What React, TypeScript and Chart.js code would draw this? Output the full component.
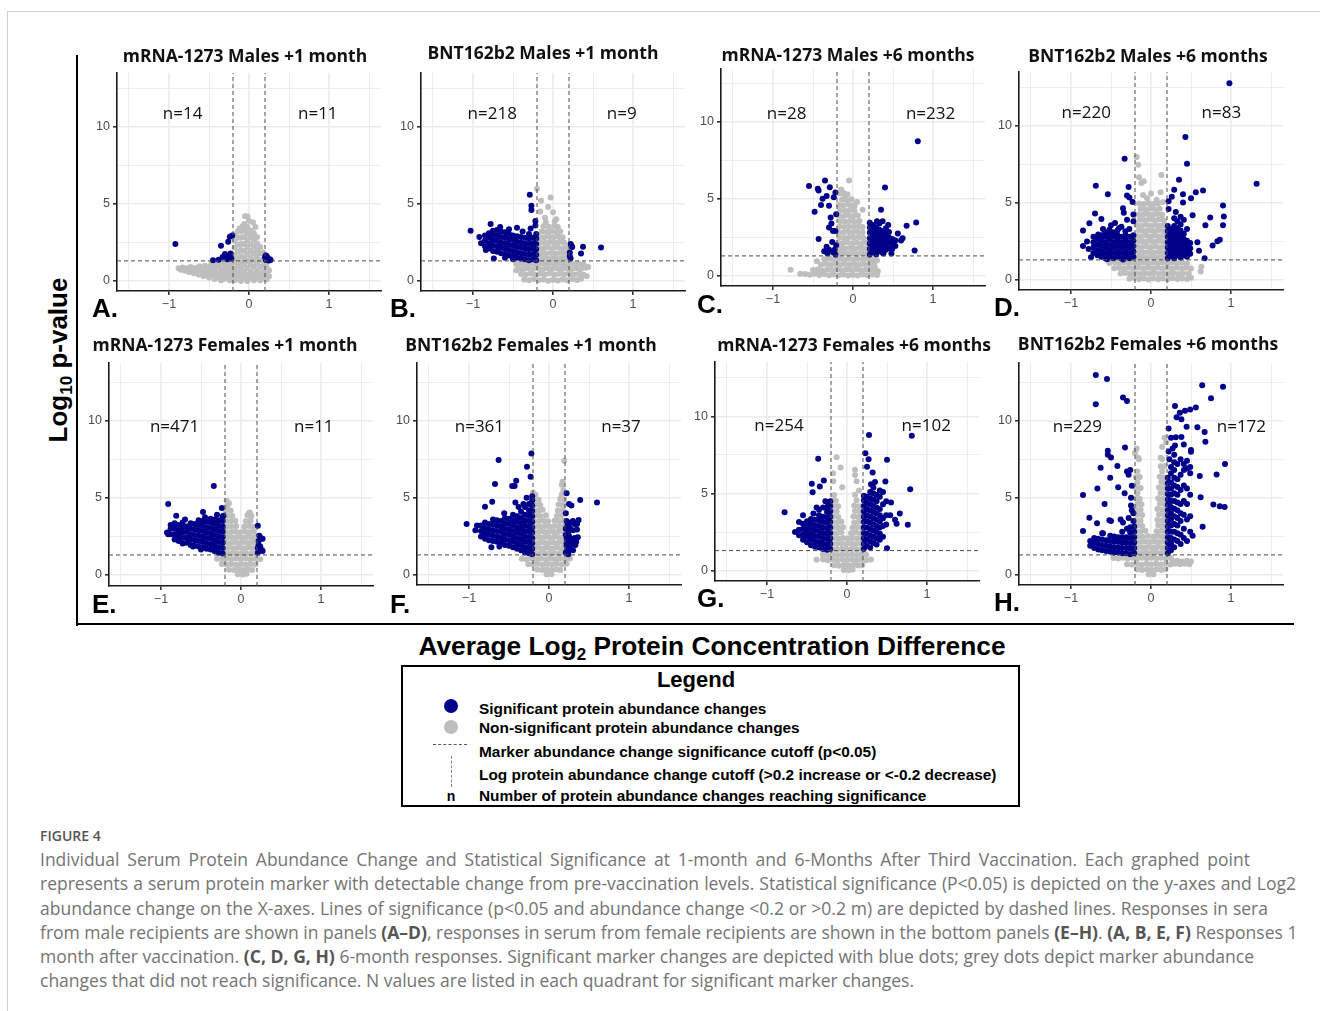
import React, { useEffect, useRef } from 'react';
import { Chart, registerables } from 'chart.js';
Chart.register(...registerables);

type P = [number, number];

// ---------------- DATA ----------------
const PANEL_TITLES = [
  'mRNA-1273 Males +1 month', 'BNT162b2 Males +1 month', 'mRNA-1273 Males +6 months', 'BNT162b2 Males +6 months',
  'mRNA-1273 Females +1 month', 'BNT162b2 Females +1 month', 'mRNA-1273 Females +6 months', 'BNT162b2 Females +6 months',
];
const PANEL_LETTERS = ['A.', 'B.', 'C.', 'D.', 'E.', 'F.', 'G.', 'H.'];
const N_LEFT = ['n=14', 'n=218', 'n=28', 'n=220', 'n=471', 'n=361', 'n=254', 'n=229'];
const N_RIGHT = ['n=11', 'n=9', 'n=232', 'n=83', 'n=11', 'n=37', 'n=102', 'n=172'];
const N_LEFT_X = [-0.83, -0.76, -0.83, -0.81, -0.83, -0.87, -0.85, -0.92];
const N_RIGHT_X = [0.86, 0.86, 0.97, 0.88, 0.91, 0.9, 0.99, 1.13];
const N_Y = [10.8, 10.8, 10.5, 10.8, 9.6, 9.6, 9.35, 9.6];
const X_GRID = [-1.5, -1, -0.5, 0, 0.5, 1, 1.5];
const X_LABELED = [-1, 0, 1];
const Y_GRID = [0, 2.5, 5, 7.5, 10, 12.5];
const Y_LABELED = [0, 5, 10];
const X_CUT = 0.2;
const P_CUT = 1.301;

const A_SIG: P[] = [
  [-0.92, 2.4], [-0.35, 2.28], [-0.26, 2.54], [-0.24, 2.87], [-0.21, 2.95], [-0.45, 1.35], [-0.38, 1.37], [-0.33, 1.55], [-0.3, 1.75], [-0.28, 1.6], [-0.25, 1.62], [-0.23, 1.78], [-0.22, 1.45], [-0.27, 1.4],
  [0.21, 1.65], [0.22, 1.45], [0.24, 1.35], [0.26, 1.4], [0.23, 1.52], [0.21, 1.36], [0.25, 1.33], [0.2, 1.55], [0.22, 1.6], [0.27, 1.36], [0.23, 1.42],
];
const A_NS: P[] = [
  [-0.88, 0.82], [-0.85, 0.72], [-0.83, 0.88], [-0.8, 0.66], [-0.78, 0.82], [-0.75, 0.58], [-0.73, 0.9], [-0.72, 0.72], [-0.69, 0.5], [-0.67, 0.84], [-0.65, 0.65], [-0.63, 0.42], [-0.62, 0.95], [-0.6, 0.75], [-0.58, 0.55], [-0.57, 0.32], [-0.55, 0.98], [-0.53, 0.7], [-0.52, 0.45], [-0.5, 0.22], [-0.5, 0.88], [-0.47, 1.08], [-0.47, 0.6], [-0.45, 0.35], [-0.43, 0.12], [-0.43, 0.8], [-0.41, 1.15], [-0.41, 0.5], [-0.38, 0.25], [-0.38, 0.98], [-0.36, 0.68], [-0.35, 0.05], [-0.34, 1.22], [-0.34, 0.4], [-0.31, 0.85], [-0.31, 0.15], [-0.29, 1.1], [-0.29, 0.55], [-0.27, 0.3], [-0.26, 1.25], [-0.26, 0.75], [-0.24, 0.05], [-0.23, 0.98], [-0.23, 0.45], [-0.21, 0.2], [-0.2, 1.2], [-0.2, 0.7],
  [-0.18, 0.05], [-0.18, 0.4], [-0.18, 0.8], [-0.18, 1.25], [-0.18, 1.7], [-0.18, 2.15], [-0.18, 2.6], [-0.18, 3.0],
  [-0.14, 0.15], [-0.14, 0.55], [-0.14, 1.0], [-0.14, 1.45], [-0.14, 1.9], [-0.14, 2.35], [-0.14, 2.8], [-0.14, 3.2],
  [-0.1, 0.0], [-0.1, 0.4], [-0.1, 0.8], [-0.1, 1.2], [-0.1, 1.6], [-0.1, 2.0], [-0.1, 2.4], [-0.1, 2.8], [-0.1, 3.2],
  [-0.06, 0.2], [-0.06, 0.6], [-0.06, 1.05], [-0.06, 1.5], [-0.06, 1.95], [-0.06, 2.4], [-0.06, 2.85], [-0.06, 3.3], [-0.06, 3.7],
  [-0.02, 0.0], [-0.02, 0.4], [-0.02, 0.85], [-0.02, 1.3], [-0.02, 1.75], [-0.02, 2.2], [-0.02, 2.65], [-0.02, 3.1], [-0.02, 3.5],
  [0.02, 0.2], [0.02, 0.6], [0.02, 1.05], [0.02, 1.5], [0.02, 1.95], [0.02, 2.4], [0.02, 2.85], [0.02, 3.25],
  [0.06, 0.05], [0.06, 0.45], [0.06, 0.9], [0.06, 1.35], [0.06, 1.8], [0.06, 2.25], [0.06, 2.7], [0.06, 3.1],
  [0.1, 0.25], [0.1, 0.65], [0.1, 1.1], [0.1, 1.55], [0.1, 2.0], [0.1, 2.45], [0.1, 2.85],
  [0.14, 0.05], [0.14, 0.45], [0.14, 0.9], [0.14, 1.35], [0.14, 1.8], [0.14, 2.2],
  [0.18, 0.2], [0.18, 0.6], [0.18, 1.0], [0.18, 1.4], [0.18, 1.85],
  [0.22, 0.1], [0.22, 0.5], [0.22, 0.9], [0.22, 1.2], [0.25, 0.3], [0.25, 0.7],
  [-0.05, 4.2], [-0.02, 4.18], [0.05, 3.8], [0, 3.9], [-0.08, 3.55], [0.08, 3.5], [-0.12, 3.4],
];

const B_SIG: P[] = [
  [-0.85, 2.25], [-0.85, 2.6], [-0.85, 2.95],
  [-0.8, 2.1], [-0.8, 2.45], [-0.8, 2.8], [-0.8, 3.1],
  [-0.75, 1.95], [-0.75, 2.3], [-0.75, 2.65], [-0.75, 3.0], [-0.75, 3.25],
  [-0.7, 1.9], [-0.7, 2.25], [-0.7, 2.6], [-0.7, 2.95], [-0.7, 3.3],
  [-0.65, 1.8], [-0.65, 2.15], [-0.65, 2.5], [-0.65, 2.85], [-0.65, 3.2],
  [-0.6, 1.75], [-0.6, 2.1], [-0.6, 2.45], [-0.6, 2.8], [-0.6, 3.15],
  [-0.55, 1.65], [-0.55, 2.0], [-0.55, 2.35], [-0.55, 2.7], [-0.55, 3.05],
  [-0.5, 1.6], [-0.5, 1.95], [-0.5, 2.3], [-0.5, 2.65], [-0.5, 2.95],
  [-0.45, 1.5], [-0.45, 1.85], [-0.45, 2.2], [-0.45, 2.55], [-0.45, 2.9],
  [-0.4, 1.45], [-0.4, 1.8], [-0.4, 2.15], [-0.4, 2.5], [-0.4, 2.85],
  [-0.35, 1.4], [-0.35, 1.75], [-0.35, 2.1], [-0.35, 2.45], [-0.35, 2.8],
  [-0.3, 1.35], [-0.3, 1.7], [-0.3, 2.05], [-0.3, 2.4], [-0.3, 2.75], [-0.3, 3.05],
  [-0.25, 1.4], [-0.25, 1.75], [-0.25, 2.1], [-0.25, 2.45], [-0.25, 2.8],
  [-0.21, 1.35], [-0.21, 1.7], [-0.21, 2.05], [-0.21, 2.4], [-0.21, 2.75], [-0.21, 3.05],
  [-1.03, 3.25], [-0.78, 3.7], [-0.45, 3.45], [-0.29, 5.59], [-0.27, 4.87], [-0.27, 4.6], [-0.22, 3.89], [-0.22, 3.6], [-0.28, 3.4], [-0.74, 1.46], [-0.84, 2.0], [-0.92, 2.85], [-0.9, 2.45], [-0.66, 3.5], [-0.55, 3.35], [-0.38, 3.2], [-0.6, 1.5], [-0.5, 1.4],
  [0.22, 2.4], [0.24, 2.2], [0.21, 1.6], [0.22, 1.45], [0.375, 2.22], [0.35, 1.78], [0.6, 2.17], [0.23, 2.3], [0.21, 1.85],
];
const B_NS: P[] = [
  [-0.36, 0.1], [-0.3, 0.05], [-0.24, 0.12], [-0.18, 0.04], [-0.12, 0.1], [-0.06, 0.02], [0, 0.08], [0.06, 0.03], [0.12, 0.1], [0.18, 0.05], [0.24, 0.12], [0.3, 0.06], [0.35, 0.14],
  [-0.4, 0.45], [-0.34, 0.42], [-0.28, 0.48], [-0.22, 0.4], [-0.16, 0.46], [-0.1, 0.42], [-0.04, 0.48], [0.02, 0.4], [0.08, 0.46], [0.14, 0.42], [0.2, 0.48], [0.26, 0.42], [0.32, 0.45], [0.38, 0.4],
  [-0.43, 0.8], [-0.37, 0.77], [-0.31, 0.83], [-0.25, 0.78], [-0.19, 0.82], [-0.13, 0.76], [-0.07, 0.83], [-0.01, 0.78], [0.05, 0.82], [0.11, 0.77], [0.17, 0.83], [0.23, 0.78], [0.29, 0.82], [0.35, 0.78], [0.41, 0.85],
  [-0.46, 1.1], [-0.4, 1.14], [-0.34, 1.1], [-0.28, 1.15], [-0.22, 1.1], [-0.16, 1.14], [-0.1, 1.1], [-0.04, 1.15], [0.02, 1.1], [0.08, 1.14], [0.14, 1.1], [0.2, 1.15], [0.26, 1.1], [0.32, 1.12], [0.38, 1.08],
  [-0.18, 1.45], [-0.12, 1.48], [-0.06, 1.44], [0, 1.48], [0.06, 1.44], [0.12, 1.48], [0.18, 1.45],
  [-0.15, 1.8], [-0.09, 1.78], [-0.03, 1.82], [0.03, 1.78], [0.09, 1.82], [0.15, 1.78], [0.19, 1.85],
  [-0.18, 2.15], [-0.12, 2.12], [-0.06, 2.18], [0, 2.13], [0.06, 2.17], [0.12, 2.12], [0.18, 2.16],
  [-0.16, 2.5], [-0.1, 2.47], [-0.04, 2.53], [0.02, 2.48], [0.08, 2.52], [0.14, 2.47],
  [-0.17, 2.85], [-0.11, 2.82], [-0.05, 2.88], [0.01, 2.83], [0.07, 2.87], [0.12, 2.84],
  [-0.14, 3.2], [-0.08, 3.17], [-0.02, 3.23], [0.04, 3.18], [0.09, 3.22],
  [-0.12, 3.55], [-0.05, 3.52], [0.02, 3.57], [0.06, 3.5],
  [-0.2, 5.98], [-0.03, 5.41], [-0.15, 5.2], [-0.06, 4.8], [0, 4.45], [0.04, 4.0], [-0.1, 4.1], [-0.16, 4.5], [0.02, 3.85], [-0.09, 3.8],
  [0.44, 0.9], [0.42, 0.3], [-0.46, 0.7],
];

const C_SIG: P[] = [
  [-0.55, 5.84], [-0.44, 5.65], [-0.43, 5.55], [-0.35, 6.19], [-0.29, 5.76], [-0.33, 5.19], [-0.24, 5.1], [-0.22, 5.41], [-0.4, 4.6], [-0.48, 4.17], [-0.3, 4.56], [-0.28, 3.79], [-0.3, 3.14], [-0.25, 2.92], [-0.22, 2.92], [-0.43, 2.4], [-0.33, 1.9], [-0.3, 1.7], [-0.32, 1.47], [-0.25, 1.54], [-0.23, 1.7], [-0.21, 2.0], [-0.26, 2.2], [-0.22, 1.4], [-0.36, 1.6], [-0.27, 3.4], [-0.21, 4.0], [-0.38, 5.0],
  [0.21, 1.4], [0.21, 1.75], [0.21, 2.1], [0.21, 2.45], [0.21, 2.8], [0.21, 3.15], [0.21, 3.45],
  [0.25, 1.55], [0.25, 1.9], [0.25, 2.25], [0.25, 2.6], [0.25, 2.95], [0.25, 3.3],
  [0.29, 1.4], [0.29, 1.75], [0.29, 2.1], [0.29, 2.45], [0.29, 2.8], [0.29, 3.15],
  [0.33, 1.6], [0.33, 1.95], [0.33, 2.3], [0.33, 2.65], [0.33, 3.0], [0.33, 3.4],
  [0.37, 1.5], [0.37, 1.85], [0.37, 2.2], [0.37, 2.55], [0.37, 2.9], [0.37, 3.55],
  [0.41, 1.7], [0.41, 2.05], [0.41, 2.4], [0.41, 2.75], [0.41, 3.1],
  [0.45, 1.8], [0.45, 2.15], [0.45, 2.5], [0.45, 2.85],
  [0.49, 1.75], [0.49, 2.1], [0.49, 2.4],
  [0.53, 1.95], [0.53, 2.3],
  [0.81, 8.74], [0.4, 5.74], [0.35, 4.29], [0.79, 3.46], [0.67, 3.25], [0.56, 2.75], [0.62, 2.45], [0.77, 1.65], [0.48, 1.45], [0.38, 1.45], [0.3, 3.55], [0.44, 3.3], [0.6, 2.3],
];
const C_NS: P[] = [
  [-0.6, 0.12], [-0.54, 0.08], [-0.48, 0.14], [-0.42, 0.06], [-0.36, 0.12], [-0.3, 0.05], [-0.24, 0.1], [-0.18, 0.04], [-0.12, 0.1], [-0.06, 0.03], [0, 0.08], [0.06, 0.03], [0.12, 0.1], [0.18, 0.05], [0.24, 0.1], [0.3, 0.06],
  [-0.5, 0.38], [-0.44, 0.42], [-0.38, 0.36], [-0.32, 0.42], [-0.26, 0.38], [-0.2, 0.43], [-0.14, 0.37], [-0.08, 0.42], [-0.02, 0.38], [0.04, 0.43], [0.1, 0.37], [0.16, 0.42], [0.22, 0.38], [0.28, 0.42],
  [-0.4, 0.72], [-0.34, 0.77], [-0.28, 0.72], [-0.22, 0.77], [-0.16, 0.72], [-0.1, 0.77], [-0.04, 0.72], [0.02, 0.77], [0.08, 0.72], [0.14, 0.77], [0.2, 0.72], [0.26, 0.76],
  [-0.36, 1.08], [-0.3, 1.12], [-0.24, 1.07], [-0.18, 1.12], [-0.12, 1.07], [-0.06, 1.12], [0, 1.07], [0.06, 1.12], [0.12, 1.07], [0.18, 1.12], [0.24, 1.06], [0.3, 1.0],
  [-0.19, 1.45], [-0.13, 1.48], [-0.07, 1.44], [-0.01, 1.48], [0.05, 1.44], [0.11, 1.48], [0.17, 1.45],
  [-0.16, 1.8], [-0.1, 1.78], [-0.04, 1.82], [0.02, 1.78], [0.08, 1.82], [0.14, 1.78], [0.19, 1.82],
  [-0.19, 2.15], [-0.13, 2.12], [-0.07, 2.18], [-0.01, 2.12], [0.05, 2.17], [0.11, 2.12], [0.17, 2.16],
  [-0.17, 2.5], [-0.11, 2.47], [-0.05, 2.53], [0.01, 2.48], [0.07, 2.52], [0.13, 2.47],
  [-0.18, 2.85], [-0.12, 2.82], [-0.06, 2.88], [0, 2.83], [0.06, 2.87], [0.12, 2.82],
  [-0.17, 3.2], [-0.11, 3.17], [-0.05, 3.23], [0.01, 3.18], [0.07, 3.22], [0.12, 3.17],
  [-0.16, 3.55], [-0.1, 3.52], [-0.04, 3.57], [0.02, 3.52], [0.08, 3.56],
  [-0.18, 3.9], [-0.12, 3.87], [-0.06, 3.93], [0, 3.88], [0.06, 3.92],
  [-0.16, 4.25], [-0.1, 4.22], [-0.04, 4.28], [0.02, 4.23], [0.12, 4.3],
  [-0.18, 4.6], [-0.12, 4.57], [-0.06, 4.63], [0, 4.58],
  [-0.14, 4.95], [-0.08, 4.92], [-0.02, 4.98],
  [-0.05, 6.19], [-0.15, 5.6], [-0.12, 5.4], [-0.1, 5.2], [-0.07, 5.3], [-0.16, 5.35], [0.05, 4.8], [0.02, 4.55],
  [0.27, 0.6], [0.31, 0.3], [-0.78, 0.4], [-0.66, 0.15], [-0.45, 0.95], [-0.3, 1.22],
];

const D_SIG: P[] = [
  [-0.72, 1.75], [-0.72, 2.1], [-0.72, 2.45], [-0.72, 2.8],
  [-0.67, 1.6], [-0.67, 1.95], [-0.67, 2.3], [-0.67, 2.65],
  [-0.62, 1.5], [-0.62, 1.85], [-0.62, 2.2], [-0.62, 2.55], [-0.62, 2.9],
  [-0.57, 1.4], [-0.57, 1.75], [-0.57, 2.1], [-0.57, 2.45], [-0.57, 2.8], [-0.57, 3.1],
  [-0.52, 1.55], [-0.52, 1.9], [-0.52, 2.25], [-0.52, 2.6], [-0.52, 2.95], [-0.52, 3.25],
  [-0.47, 1.4], [-0.47, 1.75], [-0.47, 2.1], [-0.47, 2.45], [-0.47, 2.8],
  [-0.42, 1.5], [-0.42, 1.85], [-0.42, 2.2], [-0.42, 2.55], [-0.42, 2.9], [-0.42, 3.2],
  [-0.37, 1.4], [-0.37, 1.75], [-0.37, 2.1], [-0.37, 2.45], [-0.37, 2.8], [-0.37, 3.45],
  [-0.32, 1.5], [-0.32, 1.85], [-0.32, 2.2], [-0.32, 2.55], [-0.32, 2.9], [-0.32, 3.15],
  [-0.27, 1.4], [-0.27, 1.75], [-0.27, 2.1], [-0.27, 2.45], [-0.27, 2.8], [-0.27, 3.3],
  [-0.22, 1.5], [-0.22, 1.85], [-0.22, 2.2], [-0.22, 2.55], [-0.22, 2.9],
  [-0.33, 7.86], [-0.69, 6.1], [-0.54, 5.56], [-0.28, 6.02], [-0.3, 5.48], [-0.27, 5.35], [-0.35, 4.65], [-0.34, 4.35], [-0.22, 4.25], [-0.7, 4.31], [-0.62, 3.95], [-0.77, 3.68], [-0.85, 3.2], [-0.85, 2.21], [-0.75, 1.47], [-0.5, 3.55], [-0.45, 3.7], [-0.22, 3.8], [-0.4, 3.35], [-0.6, 3.3], [-0.78, 2.0], [-0.8, 2.5], [-0.66, 2.95], [-0.23, 5.05], [-0.3, 3.9], [-0.48, 3.1], [-0.55, 1.35], [-0.35, 1.32],
  [0.21, 1.4], [0.21, 1.75], [0.21, 2.1], [0.21, 2.45], [0.21, 2.8], [0.21, 3.15], [0.21, 3.5],
  [0.25, 1.55], [0.25, 1.9], [0.25, 2.25], [0.25, 2.6], [0.25, 2.95], [0.25, 3.3],
  [0.29, 1.4], [0.29, 1.75], [0.29, 2.1], [0.29, 2.45], [0.29, 2.8], [0.29, 3.15], [0.29, 3.5], [0.29, 4.0],
  [0.33, 1.6], [0.33, 1.95], [0.33, 2.3], [0.33, 2.65], [0.33, 3.0], [0.33, 3.35], [0.33, 3.8],
  [0.37, 1.45], [0.37, 1.8], [0.37, 2.15], [0.37, 2.5], [0.37, 2.85], [0.37, 3.2], [0.37, 3.6], [0.37, 4.1],
  [0.41, 1.6], [0.41, 1.95], [0.41, 2.3], [0.41, 2.65], [0.41, 3.0], [0.41, 3.9],
  [0.45, 1.5], [0.45, 1.85], [0.45, 2.2], [0.45, 2.55], [0.45, 3.3],
  [0.49, 1.7], [0.49, 2.05], [0.49, 2.4],
  [0.98, 12.75], [0.43, 9.26], [0.45, 7.53], [1.32, 6.23], [0.35, 6.49], [0.56, 5.69], [0.65, 5.8], [0.29, 5.84], [0.4, 5.55], [0.5, 5.3], [0.26, 5.4], [0.22, 5.1], [0.4, 5.02], [0.9, 4.83], [0.52, 4.2], [0.74, 4.05], [0.91, 4.11], [0.9, 3.55], [0.68, 3.55], [0.58, 2.45], [0.77, 2.23], [0.83, 2.51], [0.86, 2.6], [0.67, 1.41], [0.6, 1.9], [0.22, 4.6], [0.31, 4.4],
];
const D_NS: P[] = [
  [-0.27, 0.08], [-0.21, 0.12], [-0.15, 0.05], [-0.09, 0.1], [-0.03, 0.03], [0.03, 0.09], [0.09, 0.04], [0.15, 0.1], [0.21, 0.05], [0.27, 0.11], [0.33, 0.06], [0.39, 0.1], [0.45, 0.07],
  [-0.38, 0.42], [-0.32, 0.45], [-0.26, 0.4], [-0.2, 0.44], [-0.14, 0.39], [-0.08, 0.44], [-0.02, 0.4], [0.04, 0.45], [0.1, 0.39], [0.16, 0.44], [0.22, 0.4], [0.28, 0.45], [0.34, 0.39], [0.4, 0.44], [0.47, 0.4],
  [-0.46, 0.76], [-0.4, 0.79], [-0.34, 0.74], [-0.28, 0.79], [-0.22, 0.74], [-0.16, 0.79], [-0.1, 0.74], [-0.04, 0.79], [0.02, 0.74], [0.08, 0.79], [0.14, 0.74], [0.2, 0.79], [0.26, 0.74], [0.32, 0.79], [0.38, 0.74], [0.44, 0.79], [0.5, 0.75],
  [-0.52, 1.1], [-0.45, 1.13], [-0.39, 1.08], [-0.33, 1.13], [-0.27, 1.08], [-0.21, 1.13], [-0.15, 1.08], [-0.09, 1.13], [-0.03, 1.08], [0.03, 1.13], [0.09, 1.08], [0.15, 1.13], [0.21, 1.08], [0.27, 1.13], [0.33, 1.08], [0.39, 1.12], [0.45, 1.06],
  [0.63, 0.85], [0.62, 0.55], [0.5, 0.15],
  [-0.18, 1.45], [-0.12, 1.48], [-0.06, 1.44], [0, 1.48], [0.06, 1.44], [0.12, 1.48], [0.18, 1.45],
  [-0.15, 1.8], [-0.09, 1.78], [-0.03, 1.82], [0.03, 1.78], [0.09, 1.82], [0.15, 1.78], [0.19, 1.83],
  [-0.18, 2.15], [-0.12, 2.12], [-0.06, 2.18], [0, 2.12], [0.06, 2.17], [0.12, 2.12], [0.18, 2.16],
  [-0.15, 2.5], [-0.09, 2.47], [-0.03, 2.53], [0.03, 2.48], [0.09, 2.52], [0.15, 2.47], [0.19, 2.52],
  [-0.18, 2.85], [-0.12, 2.82], [-0.06, 2.88], [0, 2.82], [0.06, 2.87], [0.12, 2.82], [0.18, 2.86],
  [-0.15, 3.2], [-0.09, 3.17], [-0.03, 3.23], [0.03, 3.18], [0.09, 3.22], [0.15, 3.17], [0.19, 3.22],
  [-0.18, 3.55], [-0.12, 3.52], [-0.06, 3.58], [0, 3.52], [0.06, 3.57], [0.12, 3.52], [0.17, 3.56],
  [-0.14, 3.9], [-0.08, 3.87], [-0.02, 3.93], [0.04, 3.88], [0.1, 3.92], [0.16, 3.87],
  [-0.16, 4.25], [-0.1, 4.22], [-0.04, 4.28], [0.02, 4.23], [0.08, 4.27], [0.14, 4.22],
  [-0.13, 4.6], [-0.07, 4.57], [-0.01, 4.63], [0.05, 4.58], [0.11, 4.62],
  [-0.15, 4.95], [-0.09, 4.92], [-0.03, 4.98], [0.03, 4.93], [0.09, 4.97],
  [-0.18, 7.97], [-0.16, 7.47], [-0.15, 6.65], [-0.12, 6.28], [-0.09, 6.4], [0.13, 6.8], [0.12, 5.69], [0.07, 5.2], [-0.1, 5.5], [-0.05, 5.3], [0, 5.6], [0.15, 5.05],
];

const E_SIG: P[] = [
  [-0.88, 2.65], [-0.88, 3.0], [-0.88, 3.25],
  [-0.83, 2.3], [-0.83, 2.65], [-0.83, 3.0], [-0.83, 3.35],
  [-0.78, 2.2], [-0.78, 2.55], [-0.78, 2.9], [-0.78, 3.25],
  [-0.73, 2.05], [-0.73, 2.4], [-0.73, 2.75], [-0.73, 3.1], [-0.73, 3.4],
  [-0.68, 2.1], [-0.68, 2.45], [-0.68, 2.8], [-0.68, 3.15],
  [-0.63, 1.95], [-0.63, 2.3], [-0.63, 2.65], [-0.63, 3.0], [-0.63, 3.35],
  [-0.58, 1.9], [-0.58, 2.25], [-0.58, 2.6], [-0.58, 2.95], [-0.58, 3.3],
  [-0.53, 1.85], [-0.53, 2.2], [-0.53, 2.55], [-0.53, 2.9], [-0.53, 3.25], [-0.53, 3.55],
  [-0.48, 1.8], [-0.48, 2.15], [-0.48, 2.5], [-0.48, 2.85], [-0.48, 3.2], [-0.48, 3.5],
  [-0.43, 1.7], [-0.43, 2.05], [-0.43, 2.4], [-0.43, 2.75], [-0.43, 3.1], [-0.43, 3.45],
  [-0.38, 1.65], [-0.38, 2.0], [-0.38, 2.35], [-0.38, 2.7], [-0.38, 3.05], [-0.38, 3.4], [-0.38, 3.65],
  [-0.33, 1.55], [-0.33, 1.9], [-0.33, 2.25], [-0.33, 2.6], [-0.33, 2.95], [-0.33, 3.3], [-0.33, 3.6],
  [-0.28, 1.45], [-0.28, 1.8], [-0.28, 2.15], [-0.28, 2.5], [-0.28, 2.85], [-0.28, 3.2], [-0.28, 3.55],
  [-0.23, 1.4], [-0.23, 1.75], [-0.23, 2.1], [-0.23, 2.45], [-0.23, 2.8], [-0.23, 3.15], [-0.23, 3.5], [-0.23, 3.8],
  [-0.34, 5.77], [-0.91, 4.6], [-0.81, 3.84], [-0.475, 4.08], [-0.24, 4.34], [-0.22, 3.85], [-0.925, 2.76], [-0.91, 2.65], [-0.6, 1.85], [-0.5, 1.65], [-0.7, 3.6], [-0.45, 3.75], [-0.3, 3.9],
  [0.21, 3.2], [0.25, 2.38], [0.27, 2.35], [0.22, 2.2], [0.22, 1.94], [0.26, 1.62], [0.21, 1.75], [0.23, 2.55], [0.21, 1.45], [0.24, 1.85], [0.27, 1.55],
];
const E_NS: P[] = [
  [-0.04, 0.05], [0.02, 0.03], [0.07, 0.08],
  [-0.15, 0.35], [-0.09, 0.32], [-0.03, 0.37], [0.03, 0.33], [0.09, 0.37], [0.14, 0.33],
  [-0.24, 0.7], [-0.18, 0.68], [-0.12, 0.72], [-0.06, 0.67], [0, 0.72], [0.06, 0.68], [0.12, 0.72], [0.18, 0.68],
  [-0.3, 1.05], [-0.24, 1.02], [-0.18, 1.07], [-0.12, 1.02], [-0.06, 1.07], [0, 1.02], [0.06, 1.07], [0.12, 1.02], [0.18, 1.07], [0.24, 1.03],
  [-0.18, 1.4], [-0.12, 1.38], [-0.06, 1.42], [0, 1.38], [0.06, 1.42], [0.12, 1.38], [0.18, 1.42],
  [-0.16, 1.75], [-0.1, 1.73], [-0.04, 1.77], [0.02, 1.73], [0.08, 1.77], [0.14, 1.73], [0.19, 1.77],
  [-0.19, 2.1], [-0.13, 2.08], [-0.07, 2.12], [-0.01, 2.08], [0.05, 2.12], [0.11, 2.08], [0.17, 2.12],
  [-0.17, 2.45], [-0.11, 2.43], [-0.05, 2.47], [0.01, 2.43], [0.07, 2.47], [0.13, 2.43], [0.18, 2.47],
  [-0.19, 2.8], [-0.13, 2.78], [-0.07, 2.82], [-0.01, 2.78], [0.05, 2.82], [0.11, 2.78], [0.16, 2.82],
  [-0.18, 3.15], [-0.12, 3.13], [-0.06, 3.17], [0.04, 3.13], [0.1, 3.17], [0.15, 3.13],
  [-0.19, 3.5], [-0.13, 3.48], [-0.07, 3.52], [0.06, 3.48], [0.12, 3.52],
  [-0.17, 3.85], [-0.11, 3.83], [0.08, 3.87], [0.13, 3.83],
  [-0.19, 4.2], [-0.13, 4.18], [0.1, 4.0],
  [-0.17, 4.5], [-0.18, 4.82], [0.11, 4.06], [-0.15, 4.65],
];

const F_SIG: P[] = [
  [-0.85, 2.5], [-0.85, 2.85], [-0.85, 3.2],
  [-0.8, 2.35], [-0.8, 2.7], [-0.8, 3.05], [-0.8, 3.4],
  [-0.75, 2.25], [-0.75, 2.6], [-0.75, 2.95], [-0.75, 3.3],
  [-0.7, 2.2], [-0.7, 2.55], [-0.7, 2.9], [-0.7, 3.25], [-0.7, 3.6],
  [-0.65, 2.15], [-0.65, 2.5], [-0.65, 2.85], [-0.65, 3.2], [-0.65, 3.55],
  [-0.6, 2.1], [-0.6, 2.45], [-0.6, 2.8], [-0.6, 3.15], [-0.6, 3.5],
  [-0.55, 1.95], [-0.55, 2.3], [-0.55, 2.65], [-0.55, 3.0], [-0.55, 3.35], [-0.55, 3.7],
  [-0.5, 1.9], [-0.5, 2.25], [-0.5, 2.6], [-0.5, 2.95], [-0.5, 3.3], [-0.5, 3.65],
  [-0.45, 1.8], [-0.45, 2.15], [-0.45, 2.5], [-0.45, 2.85], [-0.45, 3.2], [-0.45, 3.55], [-0.45, 3.9],
  [-0.4, 1.7], [-0.4, 2.05], [-0.4, 2.4], [-0.4, 2.75], [-0.4, 3.1], [-0.4, 3.45], [-0.4, 3.8],
  [-0.35, 1.6], [-0.35, 1.95], [-0.35, 2.3], [-0.35, 2.65], [-0.35, 3.0], [-0.35, 3.35], [-0.35, 3.7], [-0.35, 4.1],
  [-0.3, 1.45], [-0.3, 1.8], [-0.3, 2.15], [-0.3, 2.5], [-0.3, 2.85], [-0.3, 3.2], [-0.3, 3.55], [-0.3, 3.9], [-0.3, 4.4],
  [-0.25, 1.4], [-0.25, 1.75], [-0.25, 2.1], [-0.25, 2.45], [-0.25, 2.8], [-0.25, 3.15], [-0.25, 3.5], [-0.25, 3.85], [-0.25, 4.2], [-0.25, 4.6],
  [-0.21, 1.35], [-0.21, 1.7], [-0.21, 2.05], [-0.21, 2.4], [-0.21, 2.75], [-0.21, 3.1], [-0.21, 3.45], [-0.21, 3.8], [-0.21, 4.15], [-0.21, 4.5], [-0.21, 4.85], [-0.21, 5.1],
  [-1.03, 3.3], [-0.63, 7.45], [-0.22, 7.88], [-0.275, 7.02], [-0.23, 6.37], [-0.675, 5.9], [-0.43, 5.77], [-0.41, 6.11], [-0.46, 5.77], [-0.8, 4.43], [-0.71, 4.75], [-0.42, 4.7], [-0.32, 4.6], [-0.72, 1.79], [-0.62, 1.85], [-0.56, 4.0], [-0.92, 2.9], [-0.9, 3.2], [-0.28, 5.0], [-0.38, 4.4],
  [0.22, 5.29], [0.25, 4.6], [0.28, 4.5], [0.39, 4.86], [0.6, 4.69], [0.37, 3.56], [0.35, 3.3], [0.32, 3.3], [0.22, 3.5], [0.35, 2.95], [0.36, 2.45], [0.23, 3.2], [0.24, 2.8], [0.25, 2.2], [0.22, 1.9], [0.24, 1.5], [0.27, 1.7], [0.3, 2.9], [0.28, 2.3], [0.25, 2.55], [0.3, 1.6], [0.33, 1.95], [0.21, 2.6], [0.21, 3.0], [0.22, 2.35], [0.21, 1.45], [0.26, 3.05], [0.29, 2.05], [0.23, 1.65], [0.32, 2.4], [0.21, 4.0], [0.27, 3.4], [0.24, 1.35], [0.3, 3.5], [0.34, 2.15], [0.26, 1.95], [0.22, 2.05],
];
const F_NS: P[] = [
  [-0.03, 0.05], [0.03, 0.04],
  [-0.15, 0.35], [-0.09, 0.32], [-0.03, 0.37], [0.03, 0.33], [0.09, 0.37], [0.14, 0.33],
  [-0.26, 0.7], [-0.2, 0.68], [-0.14, 0.72], [-0.08, 0.67], [-0.02, 0.72], [0.04, 0.68], [0.1, 0.72], [0.16, 0.68], [0.22, 0.72],
  [-0.34, 1.05], [-0.28, 1.02], [-0.22, 1.07], [-0.16, 1.02], [-0.1, 1.07], [-0.04, 1.02], [0.02, 1.07], [0.08, 1.02], [0.14, 1.07], [0.2, 1.02], [0.26, 1.06],
  [-0.18, 1.4], [-0.12, 1.38], [-0.06, 1.42], [0, 1.38], [0.06, 1.42], [0.12, 1.38], [0.18, 1.42],
  [-0.16, 1.75], [-0.1, 1.73], [-0.04, 1.77], [0.02, 1.73], [0.08, 1.77], [0.14, 1.73], [0.19, 1.77],
  [-0.19, 2.1], [-0.13, 2.08], [-0.07, 2.12], [-0.01, 2.08], [0.05, 2.12], [0.11, 2.08], [0.17, 2.12],
  [-0.17, 2.45], [-0.11, 2.43], [-0.05, 2.47], [0.01, 2.43], [0.07, 2.47], [0.13, 2.43], [0.19, 2.47],
  [-0.19, 2.8], [-0.13, 2.78], [-0.07, 2.82], [-0.01, 2.78], [0.05, 2.82], [0.11, 2.78], [0.17, 2.82],
  [-0.17, 3.15], [-0.11, 3.13], [-0.05, 3.17], [0.01, 3.13], [0.07, 3.17], [0.13, 3.13], [0.19, 3.17],
  [-0.19, 3.5], [-0.13, 3.48], [-0.07, 3.52], [-0.01, 3.48], [0.07, 3.52], [0.13, 3.48], [0.18, 3.52],
  [-0.17, 3.85], [-0.11, 3.83], [-0.04, 3.87], [0.1, 3.83], [0.16, 3.87],
  [-0.19, 4.2], [-0.13, 4.18], [-0.08, 4.22], [0.11, 4.18], [0.17, 4.22],
  [-0.17, 4.55], [-0.11, 4.53], [0.12, 4.57], [0.18, 4.53],
  [-0.19, 4.9], [-0.13, 4.88], [0.14, 4.92], [0.19, 4.88],
  [-0.17, 5.2], [0.16, 5.22],
  [0.17, 6.05], [0.19, 7.4], [0.16, 5.85], [0.18, 5.5], [-0.2, 5.35],
];

const G_SIG: P[] = [
  [-0.6, 2.3], [-0.6, 2.65],
  [-0.55, 2.0], [-0.55, 2.35], [-0.55, 2.7], [-0.55, 3.05],
  [-0.5, 1.85], [-0.5, 2.2], [-0.5, 2.55], [-0.5, 2.9], [-0.5, 3.2],
  [-0.45, 1.65], [-0.45, 2.0], [-0.45, 2.35], [-0.45, 2.7], [-0.45, 3.05], [-0.45, 3.35],
  [-0.4, 1.55], [-0.4, 1.9], [-0.4, 2.25], [-0.4, 2.6], [-0.4, 2.95], [-0.4, 3.3],
  [-0.35, 1.5], [-0.35, 1.85], [-0.35, 2.2], [-0.35, 2.55], [-0.35, 2.9], [-0.35, 3.25], [-0.35, 3.6], [-0.35, 3.95],
  [-0.3, 1.4], [-0.3, 1.75], [-0.3, 2.1], [-0.3, 2.45], [-0.3, 2.8], [-0.3, 3.15], [-0.3, 3.5],
  [-0.25, 1.35], [-0.25, 1.7], [-0.25, 2.05], [-0.25, 2.4], [-0.25, 2.75], [-0.25, 3.1], [-0.25, 3.45], [-0.25, 3.8], [-0.25, 4.1],
  [-0.21, 1.4], [-0.21, 1.75], [-0.21, 2.1], [-0.21, 2.45], [-0.21, 2.8], [-0.21, 3.15], [-0.21, 3.5], [-0.21, 3.85], [-0.21, 4.2], [-0.21, 4.5],
  [-0.78, 3.79], [-0.36, 7.25], [-0.29, 5.84], [-0.44, 5.63], [-0.43, 5.09], [-0.34, 5.45], [-0.55, 3.59], [-0.6, 3.15], [-0.3, 4.1], [-0.27, 4.5], [-0.38, 4.1], [-0.42, 3.7], [-0.65, 2.5], [-0.24, 4.4],
  [0.21, 1.4], [0.21, 1.75], [0.21, 2.1], [0.21, 2.45], [0.21, 2.8], [0.21, 3.15], [0.21, 3.5], [0.21, 3.85], [0.21, 4.2], [0.21, 4.55], [0.21, 4.85],
  [0.25, 1.6], [0.25, 2.0], [0.25, 2.4], [0.25, 2.8], [0.25, 3.2], [0.25, 3.6], [0.25, 4.0], [0.25, 4.4], [0.25, 4.8],
  [0.29, 1.5], [0.29, 1.9], [0.29, 2.3], [0.29, 2.7], [0.29, 3.1], [0.29, 3.5], [0.29, 3.9], [0.29, 4.3], [0.29, 4.7], [0.29, 5.1],
  [0.33, 1.8], [0.33, 2.2], [0.33, 2.6], [0.33, 3.0], [0.33, 3.4], [0.33, 3.8], [0.33, 4.2], [0.33, 4.6], [0.33, 5.0], [0.33, 5.4],
  [0.37, 1.7], [0.37, 2.1], [0.37, 2.5], [0.37, 2.9], [0.37, 3.3], [0.37, 3.7], [0.37, 4.1], [0.37, 4.5], [0.37, 4.9],
  [0.41, 2.0], [0.41, 2.4], [0.41, 2.8], [0.41, 3.2], [0.41, 3.6], [0.41, 4.0], [0.41, 4.8], [0.41, 5.2],
  [0.45, 2.2], [0.45, 2.9], [0.45, 3.4], [0.45, 4.3], [0.45, 5.1],
  [0.49, 3.0], [0.49, 3.6], [0.49, 4.5],
  [0.275, 8.79], [0.81, 8.74], [0.23, 7.62], [0.27, 7.23], [0.5, 7.19], [0.25, 6.73], [0.32, 6.36], [0.79, 5.28], [0.48, 5.78], [0.55, 4.42], [0.66, 3.7], [0.6, 3.3], [0.62, 3.05], [0.76, 2.97], [0.54, 3.6], [0.5, 1.45], [0.42, 2.2], [0.3, 5.6], [0.35, 5.75],
];
const G_NS: P[] = [
  [-0.04, 0.05], [0.02, 0.03], [0.07, 0.08],
  [-0.16, 0.35], [-0.1, 0.32], [-0.04, 0.37], [0.02, 0.33], [0.08, 0.37], [0.14, 0.33], [0.19, 0.37],
  [-0.38, 0.7], [-0.3, 0.72], [-0.24, 0.68], [-0.18, 0.72], [-0.12, 0.67], [-0.06, 0.72], [0, 0.68], [0.06, 0.72], [0.12, 0.68], [0.18, 0.72], [0.24, 0.68], [0.3, 0.72],
  [-0.3, 1.05], [-0.24, 1.02], [-0.18, 1.07], [-0.12, 1.02], [-0.06, 1.07], [0, 1.02], [0.06, 1.07], [0.12, 1.02], [0.18, 1.07], [0.24, 1.03],
  [-0.18, 1.4], [-0.12, 1.38], [-0.06, 1.42], [0, 1.38], [0.06, 1.42], [0.12, 1.38], [0.18, 1.42],
  [-0.19, 1.75], [-0.13, 1.73], [-0.07, 1.77], [-0.01, 1.73], [0.05, 1.77], [0.11, 1.73], [0.17, 1.77],
  [-0.17, 2.1], [-0.11, 2.08], [-0.05, 2.12], [0.01, 2.08], [0.07, 2.12], [0.13, 2.08], [0.19, 2.12],
  [-0.19, 2.45], [-0.13, 2.43], [-0.07, 2.47], [0.05, 2.43], [0.11, 2.47], [0.17, 2.43],
  [-0.17, 2.8], [-0.11, 2.78], [-0.05, 2.82], [0.07, 2.78], [0.13, 2.82], [0.19, 2.78],
  [-0.19, 3.15], [-0.13, 3.13], [-0.07, 3.17], [0.09, 3.13], [0.15, 3.17],
  [-0.17, 3.5], [-0.11, 3.48], [0.08, 3.52], [0.14, 3.48], [0.19, 3.52],
  [-0.19, 3.85], [-0.13, 3.83], [0.1, 3.87], [0.16, 3.83],
  [-0.17, 4.2], [-0.11, 4.18], [0.09, 4.22], [0.15, 4.18],
  [-0.19, 4.55], [-0.14, 4.53], [0.12, 4.57],
  [-0.16, 4.9], [0.1, 4.92],
  [-0.13, 7.36], [-0.08, 6.69], [-0.175, 6.32], [-0.17, 5.8], [-0.06, 5.41], [0.1, 6.54], [0.1, 6.2], [0.12, 5.8], [0.15, 5.2],
];

const H_SIG: P[] = [
  [-0.76, 1.9], [-0.76, 2.2],
  [-0.71, 1.75], [-0.71, 2.1], [-0.71, 2.4],
  [-0.66, 1.65], [-0.66, 2.0], [-0.66, 2.35],
  [-0.61, 1.6], [-0.61, 1.95], [-0.61, 2.3], [-0.61, 2.7],
  [-0.56, 1.55], [-0.56, 1.9], [-0.56, 2.25],
  [-0.51, 1.5], [-0.51, 1.85], [-0.51, 2.2], [-0.51, 2.55],
  [-0.46, 1.45], [-0.46, 1.8], [-0.46, 2.15], [-0.46, 2.5],
  [-0.41, 1.45], [-0.41, 1.8], [-0.41, 2.15], [-0.41, 2.45],
  [-0.36, 1.4], [-0.36, 1.75], [-0.36, 2.1], [-0.36, 2.45], [-0.36, 2.8],
  [-0.31, 1.4], [-0.31, 1.75], [-0.31, 2.1], [-0.31, 2.45],
  [-0.26, 1.35], [-0.26, 1.7], [-0.26, 2.05], [-0.26, 2.4], [-0.26, 2.75], [-0.26, 3.1],
  [-0.21, 1.4], [-0.21, 1.75], [-0.21, 2.1], [-0.21, 2.45], [-0.21, 2.8], [-0.21, 3.15],
  [-0.69, 12.96], [-0.55, 12.7], [-0.69, 11.06], [-0.35, 11.51], [-0.3, 11.27], [-0.54, 8.06], [-0.54, 7.8], [-0.5, 7.62], [-0.325, 8.27], [-0.63, 6.95], [-0.42, 7.06], [-0.3, 6.7], [-0.28, 6.5], [-0.26, 6.8], [-0.51, 6.3], [-0.67, 5.6], [-0.41, 5.68], [-0.24, 5.79], [-0.33, 5.29], [-0.25, 5.0], [-0.85, 5.18], [-0.58, 4.6], [-0.77, 3.71], [-0.675, 3.35], [-0.52, 3.55], [-0.5, 3.5], [-0.38, 3.6], [-0.35, 3.4], [-0.28, 3.7], [-0.25, 4.5], [-0.22, 3.5], [-0.85, 2.85], [-0.6, 2.7], [-0.24, 4.2], [-0.22, 4.0], [-0.3, 3.0],
  [0.21, 1.4], [0.21, 1.75], [0.21, 2.1], [0.21, 2.45], [0.21, 2.8], [0.21, 3.15], [0.21, 3.5], [0.21, 3.85], [0.21, 4.2], [0.21, 4.55], [0.21, 4.9], [0.21, 5.25], [0.21, 5.6], [0.21, 5.95], [0.21, 6.3],
  [0.25, 1.6], [0.25, 2.0], [0.25, 2.4], [0.25, 2.8], [0.25, 3.2], [0.25, 3.6], [0.25, 4.0], [0.25, 4.4], [0.25, 4.8], [0.25, 5.2], [0.25, 5.6], [0.25, 6.0], [0.25, 6.6], [0.25, 7.0],
  [0.29, 1.8], [0.29, 2.3], [0.29, 2.8], [0.29, 3.3], [0.29, 3.8], [0.29, 4.3], [0.29, 4.8], [0.29, 5.3], [0.29, 5.8], [0.29, 6.3], [0.29, 6.8], [0.29, 7.3], [0.29, 7.8],
  [0.33, 2.2], [0.33, 2.7], [0.33, 3.2], [0.33, 3.7], [0.33, 4.2], [0.33, 4.7], [0.33, 5.2], [0.33, 5.7], [0.33, 6.2], [0.33, 7.2],
  [0.37, 2.0], [0.37, 2.6], [0.37, 3.5], [0.37, 4.0], [0.37, 4.6], [0.37, 5.5], [0.37, 6.5], [0.37, 7.5],
  [0.41, 2.4], [0.41, 3.0], [0.41, 3.9], [0.41, 4.8], [0.41, 5.8], [0.41, 6.8], [0.41, 7.2],
  [0.45, 2.2], [0.45, 3.6], [0.45, 4.6], [0.45, 5.6], [0.45, 6.9], [0.45, 7.4],
  [0.49, 2.8], [0.49, 3.8], [0.49, 5.2], [0.49, 6.6], [0.49, 7.0],
  [0.64, 12.29], [0.9, 12.2], [0.75, 11.45], [0.3, 10.95], [0.425, 10.65], [0.49, 10.73], [0.56, 10.86], [0.36, 10.52], [0.32, 10.22], [0.38, 10.1], [0.445, 9.61], [0.58, 9.57], [0.67, 9.27], [0.22, 9.5], [0.25, 8.9], [0.31, 8.92], [0.38, 8.95], [0.68, 8.64], [0.3, 8.4], [0.41, 8.45], [0.5, 8.1], [0.5, 7.99], [0.82, 6.52], [0.925, 7.19], [0.61, 6.41], [0.62, 5.03], [0.78, 4.56], [0.86, 4.45], [0.92, 4.4], [0.645, 3.13], [0.52, 2.55], [0.22, 8.0], [0.27, 8.2], [0.23, 7.5],
];
const H_NS: P[] = [
  [-0.03, 0.05], [0.03, 0.04],
  [-0.17, 0.35], [-0.11, 0.32], [-0.05, 0.37], [0.01, 0.33], [0.07, 0.37], [0.13, 0.33], [0.18, 0.37],
  [-0.3, 0.7], [-0.24, 0.68], [-0.18, 0.72], [-0.12, 0.67], [-0.06, 0.72], [0, 0.68], [0.06, 0.72], [0.12, 0.68], [0.18, 0.72], [0.24, 0.68], [0.3, 0.72], [0.36, 0.7], [0.42, 0.73], [0.48, 0.7],
  [0.27, 0.9], [0.33, 0.92], [0.39, 0.88], [0.45, 0.92], [0.5, 0.88],
  [-0.47, 1.1], [-0.41, 1.07], [-0.35, 1.12], [-0.29, 1.07], [-0.23, 1.12], [-0.17, 1.07], [-0.11, 1.12], [-0.05, 1.07], [0.01, 1.12], [0.07, 1.07], [0.13, 1.12], [0.19, 1.07], [0.25, 1.1],
  [-0.18, 1.45], [-0.12, 1.43], [-0.06, 1.47], [0, 1.43], [0.06, 1.47], [0.12, 1.43], [0.18, 1.47],
  [-0.16, 1.8], [-0.1, 1.78], [-0.04, 1.82], [0.02, 1.78], [0.08, 1.82], [0.14, 1.78], [0.19, 1.82],
  [-0.19, 2.15], [-0.13, 2.13], [-0.07, 2.17], [-0.01, 2.13], [0.05, 2.17], [0.11, 2.13], [0.17, 2.17],
  [-0.17, 2.5], [-0.11, 2.48], [-0.04, 2.52], [0.03, 2.48], [0.09, 2.52], [0.15, 2.48], [0.19, 2.52],
  [-0.19, 2.85], [-0.13, 2.83], [-0.07, 2.87], [0.07, 2.83], [0.13, 2.87], [0.18, 2.83],
  [-0.17, 3.2], [-0.11, 3.18], [0.09, 3.22], [0.15, 3.18], [0.19, 3.22],
  [-0.19, 3.55], [-0.13, 3.53], [0.08, 3.57], [0.14, 3.53], [0.19, 3.57],
  [-0.17, 3.9], [-0.11, 3.88], [0.1, 3.92], [0.16, 3.88],
  [-0.19, 4.25], [-0.13, 4.23], [0.08, 4.27], [0.14, 4.23], [0.19, 4.27],
  [-0.17, 4.6], [-0.12, 4.58], [0.11, 4.62], [0.17, 4.58],
  [-0.19, 4.95], [-0.14, 4.93], [0.09, 4.97], [0.15, 4.93],
  [-0.17, 5.3], [0.12, 5.32], [0.18, 5.28],
  [-0.19, 5.65], [-0.13, 5.63], [0.1, 5.67], [0.16, 5.63],
  [-0.17, 6.0], [0.13, 6.02], [0.18, 5.98],
  [-0.14, 6.35], [-0.19, 6.33], [0.11, 6.37], [0.16, 6.33],
  [-0.17, 6.7], [0.14, 6.72],
  [0.12, 7.05], [0.17, 7.07],
  [-0.15, 7.5], [0.14, 7.5],
  [-0.18, 8.2], [-0.2, 7.9], [-0.16, 7.6], [0.17, 8.9], [0.14, 8.3], [0.12, 7.6], [0.19, 8.6],
];

const SIG_SETS = [A_SIG, B_SIG, C_SIG, D_SIG, E_SIG, F_SIG, G_SIG, H_SIG];
const NS_SETS = [A_NS, B_NS, C_NS, D_NS, E_NS, F_NS, G_NS, H_NS];

// ---------------- LAYOUT ----------------
const X_MIN = -1.65;
const X_MAX = 1.65;
const PLOT_W = 264;
const AXIS_W = 40;
const AXIS_H = 24;
const PAD_T = 14;
const PAD_R = 8;
const BOXES = [
  { left: 117, top: 73, h: 218, ymin: -0.65, ymax: 13.48 },
  { left: 421, top: 73, h: 218, ymin: -0.65, ymax: 13.48 },
  { left: 721, top: 69, h: 217, ymin: -0.65, ymax: 13.42 },
  { left: 1019, top: 72, h: 218, ymin: -0.65, ymax: 13.48 },
  { left: 109, top: 363, h: 223, ymin: -0.71, ymax: 13.74 },
  { left: 417, top: 363, h: 222, ymin: -0.65, ymax: 13.74 },
  { left: 715, top: 362, h: 219, ymin: -0.67, ymax: 13.53 },
  { left: 1019, top: 363, h: 222, ymin: -0.65, ymax: 13.74 },
];
const TITLE_POS = [[245, 55], [543, 52], [848, 54], [1148, 55], [225, 344], [531, 344], [854, 344], [1148, 343]];
const LETTER_POS = [[92, 308], [390, 308], [697, 304], [994, 307], [92, 604], [390, 604], [697, 598], [994, 602]];
const CAPTION_WIDTHS = [1210, 1256, 1228, 1252, 1214];

const BLUE = '#00008B';
const GREY = '#BEBEBE';
const GRID = '#EBEBEB';
const SANS = '"Liberation Sans", Arial, sans-serif';
const OPEN = '"Open Sans", "Noto Sans", sans-serif';
const DOT_R = 3;

const toXY = (a: P[]) => a.map(([x, y]) => ({ x, y }));
const fmt = (v: number) => (v < 0 ? '\u2212' + Math.abs(v) : String(v));

function Panel({ i }: { i: number }) {
  const ref = useRef<HTMLCanvasElement | null>(null);
  const b = BOXES[i];
  const cw = AXIS_W + PLOT_W + PAD_R;
  const ch = PAD_T + b.h + AXIS_H;
  useEffect(() => {
    const canvas = ref.current;
    if (!canvas) return;
    const nPlugin = {
      id: 'nLabels' + i,
      afterDatasetsDraw(chart: any) {
        const { ctx } = chart;
        const xs = chart.scales.x;
        const ys = chart.scales.y;
        ctx.save();
        ctx.font = '17px ' + OPEN;
        ctx.fillStyle = '#111';
        ctx.textAlign = 'center';
        ctx.textBaseline = 'middle';
        ctx.fillText(N_LEFT[i], xs.getPixelForValue(N_LEFT_X[i]), ys.getPixelForValue(N_Y[i]));
        ctx.fillText(N_RIGHT[i], xs.getPixelForValue(N_RIGHT_X[i]), ys.getPixelForValue(N_Y[i]));
        ctx.restore();
      },
    };
    const dash = { showLine: true, borderColor: '#4a4a4a', borderWidth: 1, borderDash: [4, 3], pointRadius: 0, order: 0 };
    const chart = new Chart(canvas, {
      type: 'scatter',
      data: {
        datasets: [
          { ...dash, data: [{ x: -X_CUT, y: b.ymin }, { x: -X_CUT, y: b.ymax }] },
          { ...dash, data: [{ x: X_CUT, y: b.ymin }, { x: X_CUT, y: b.ymax }] },
          { ...dash, data: [{ x: X_MIN, y: P_CUT }, { x: X_MAX, y: P_CUT }] },
          { data: toXY(SIG_SETS[i]), backgroundColor: BLUE, borderWidth: 0, pointRadius: DOT_R, order: 1 },
          { data: toXY(NS_SETS[i]), backgroundColor: GREY, borderWidth: 0, pointRadius: DOT_R, order: 2 },
        ] as any,
      },
      options: {
        animation: false,
        responsive: false,
        maintainAspectRatio: false,
        events: [],
        layout: { padding: { top: PAD_T, right: PAD_R, left: 0, bottom: 0 } },
        plugins: { legend: { display: false }, tooltip: { enabled: false }, title: { display: false } },
        scales: {
          x: {
            type: 'linear',
            min: X_MIN,
            max: X_MAX,
            afterBuildTicks: (s: any) => { s.ticks = X_GRID.map((v) => ({ value: v })); },
            afterFit: (s: any) => { s.height = AXIS_H; s.paddingLeft = 0; s.paddingRight = 0; },
            grid: {
              color: GRID,
              lineWidth: (c: any) => (X_LABELED.includes(c.tick?.value) ? 1.6 : 0.9),
              tickLength: 4,
              tickColor: (c: any) => (X_LABELED.includes(c.tick?.value) ? '#333' : 'rgba(0,0,0,0)'),
            },
            border: { display: true, color: '#1a1a1a', width: 1.6 },
            ticks: {
              autoSkip: false, maxRotation: 0, minRotation: 0, padding: 2, color: '#4d4d4d',
              font: { family: SANS, size: 12.5 },
              callback: (v: any) => (X_LABELED.includes(v) ? fmt(v) : ''),
            },
          },
          y: {
            type: 'linear',
            min: b.ymin,
            max: b.ymax,
            afterBuildTicks: (s: any) => { s.ticks = Y_GRID.map((v) => ({ value: v })); },
            afterFit: (s: any) => { s.width = AXIS_W; s.paddingTop = 0; s.paddingBottom = 0; },
            grid: {
              color: GRID,
              lineWidth: (c: any) => (Y_LABELED.includes(c.tick?.value) ? 1.6 : 0.9),
              tickLength: 4,
              tickColor: (c: any) => (Y_LABELED.includes(c.tick?.value) ? '#333' : 'rgba(0,0,0,0)'),
            },
            border: { display: true, color: '#1a1a1a', width: 1.6 },
            ticks: {
              autoSkip: false, padding: 3, color: '#4d4d4d',
              font: { family: SANS, size: 12.5 },
              callback: (v: any) => (Y_LABELED.includes(v) ? fmt(v) : ''),
            },
          },
        },
      } as any,
      plugins: [nPlugin],
    });
    return () => chart.destroy();
  }, [i]);
  return (
    <canvas
      ref={ref}
      width={cw}
      height={ch}
      style={{ position: 'absolute', left: b.left - AXIS_W, top: b.top - PAD_T, width: cw, height: ch }}
    />
  );
}

const abs = (left: number, top: number, extra: React.CSSProperties = {}): React.CSSProperties => ({
  position: 'absolute', left, top, whiteSpace: 'nowrap', ...extra,
});
const centered = (x: number, y: number, extra: React.CSSProperties = {}): React.CSSProperties => ({
  position: 'absolute', left: x, top: y, transform: 'translate(-50%, -50%)', whiteSpace: 'nowrap', ...extra,
});

const LEGEND_ITEMS = [
  'Significant protein abundance changes',
  'Non-significant protein abundance changes',
  'Marker abundance change significance cutoff (p<0.05)',
  'Log protein abundance change cutoff (>0.2 increase or <-0.2 decrease)',
  'Number of protein abundance changes reaching significance',
];
const LEGEND_Y = [709, 728, 752, 775, 796];

export default function App() {
  const bold: React.CSSProperties = { fontWeight: 700, color: '#555' };
  const line = (k: number): React.CSSProperties => ({ width: CAPTION_WIDTHS[k], textAlign: 'justify', textAlignLast: 'justify' as any, whiteSpace: 'nowrap' });
  return (
    <div style={{ position: 'absolute', left: 0, top: 0, width: 1320, height: 1011, background: '#fff', overflow: 'hidden', fontFamily: SANS }}>
      <div style={{ position: 'absolute', left: 7, top: 11, width: 1313, height: 1000, borderTop: '1px solid #cfcfcf', borderLeft: '1px solid #cfcfcf' }} />
      {/* big L axis */}
      <div style={{ position: 'absolute', left: 76, top: 55, width: 2, height: 571, background: '#000' }} />
      <div style={{ position: 'absolute', left: 76, top: 623, width: 1218, height: 2, background: '#000' }} />
      <div style={centered(60, 360, { transform: 'translate(-50%, -50%) rotate(-90deg)', font: `bold 26px ${SANS}`, color: '#000' })}>
        Log<sub style={{ fontSize: 17, verticalAlign: -5 }}>10</sub> p-value
      </div>
      <div style={centered(712, 648, { font: `bold 26.3px ${SANS}`, color: '#000' })}>
        Average Log<sub style={{ fontSize: 17, verticalAlign: -5 }}>2</sub> Protein Concentration Difference
      </div>

      {BOXES.map((_, i) => <Panel key={i} i={i} />)}
      {PANEL_TITLES.map((t, i) => (
        <div key={'t' + i} style={centered(TITLE_POS[i][0], TITLE_POS[i][1], { font: `bold 17.5px ${OPEN}`, color: '#111' })}>{t}</div>
      ))}
      {PANEL_LETTERS.map((t, i) => (
        <div key={'l' + i} style={abs(LETTER_POS[i][0], LETTER_POS[i][1] - 15, { font: `bold 26px ${SANS}`, lineHeight: '30px', color: '#000' })}>{t}</div>
      ))}

      {/* legend */}
      <div style={{ position: 'absolute', left: 401, top: 665, width: 619, height: 142, border: '2px solid #000', boxSizing: 'border-box' }} />
      <div style={centered(696, 680, { font: `bold 22px ${SANS}`, color: '#000' })}>Legend</div>
      <div style={{ position: 'absolute', left: 444, top: 699, width: 14, height: 14, borderRadius: 7, background: BLUE }} />
      <div style={{ position: 'absolute', left: 444, top: 720, width: 14, height: 14, borderRadius: 7, background: GREY }} />
      <div style={{ position: 'absolute', left: 433, top: 744, width: 34, height: 0, borderTop: '1px dashed #555' }} />
      <div style={{ position: 'absolute', left: 451, top: 756, width: 0, height: 31, borderLeft: '1px dashed #888' }} />
      <div style={centered(451, 796, { font: `bold 14px ${SANS}`, color: '#000' })}>n</div>
      {LEGEND_ITEMS.map((t, k) => (
        <div key={'g' + k} style={abs(479, LEGEND_Y[k] - 10, { font: `bold 15.4px ${SANS}`, lineHeight: '20px', color: '#000' })}>{t}</div>
      ))}

      {/* caption */}
      <div style={abs(40, 827, { font: `600 14px ${OPEN}`, lineHeight: '18px', color: '#555' })}>FIGURE 4</div>
      <div style={{ position: 'absolute', left: 40, top: 847, font: `17.5px ${OPEN}`, lineHeight: '24.3px', color: '#747474' }}>
        <div style={line(0)}>Individual Serum Protein Abundance Change and Statistical Significance at 1-month and 6-Months After Third Vaccination. Each graphed point</div>
        <div style={line(1)}>represents a serum protein marker with detectable change from pre-vaccination levels. Statistical significance (P&lt;0.05) is depicted on the y-axes and Log2</div>
        <div style={line(2)}>abundance change on the X-axes. Lines of significance (p&lt;0.05 and abundance change &lt;0.2 or &gt;0.2 m) are depicted by dashed lines. Responses in sera</div>
        <div style={line(3)}>from male recipients are shown in panels <b style={bold}>(A–D)</b>, responses in serum from female recipients are shown in the bottom panels <b style={bold}>(E–H)</b>. <b style={bold}>(A, B, E, F)</b> Responses 1</div>
        <div style={line(4)}>month after vaccination. <b style={bold}>(C, D, G, H)</b> 6-month responses. Significant marker changes are depicted with blue dots; grey dots depict marker abundance</div>
        <div style={{ whiteSpace: 'nowrap' }}>changes that did not reach significance. N values are listed in each quadrant for significant marker changes.</div>
      </div>
    </div>
  );
}
